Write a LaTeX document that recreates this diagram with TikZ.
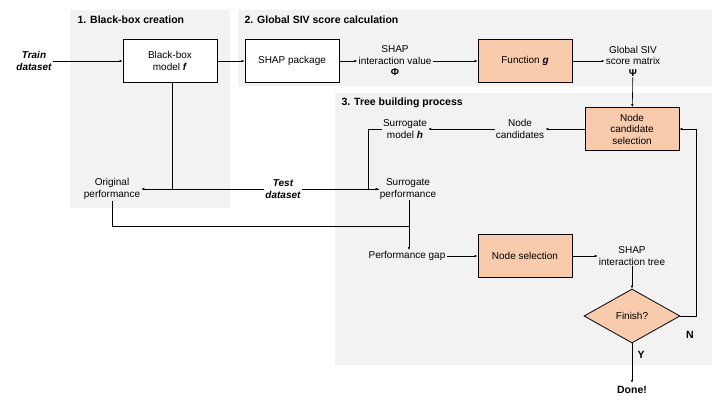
\documentclass[tikz,border=0pt]{standalone}
\usepackage{fontspec}
\setmainfont{Liberation Sans}
\usetikzlibrary{shapes.geometric,arrows.meta}
\definecolor{panel}{HTML}{F2F2F2}
\definecolor{org}{HTML}{F8CBAD}
\begin{document}
\begin{tikzpicture}[x=1pt,y=-1pt,
  font=\fontsize{10}{11.5}\selectfont,
  box/.style={draw,line width=0.8pt,minimum width=94pt,minimum height=43pt,align=center,inner sep=1pt},
  obox/.style={box,fill=org},
  txt/.style={align=center,inner sep=1pt},
  ttl/.style={anchor=west,font=\fontsize{10.5}{12}\selectfont\bfseries},
  ar/.style={-{Latex[length=3pt,width=2.5pt]},line width=0.6pt},
  ln/.style={line width=0.6pt}]
\useasboundingbox (0,0) rectangle (720,405);
\fill[panel] (70,10) rectangle (230,208);
\fill[panel] (238,10) rectangle (712,86);
\fill[panel] (335,93) rectangle (712,365);
\node[ttl] (t1) at (74,20) {1. Black-box creation};
\node[ttl] (t2) at (241,20) {2. Global SIV score calculation};
\node[ttl] (t3) at (338,103) {3. Tree building process};
\node[txt,font=\fontsize{10}{11.5}\selectfont\bfseries\itshape] (train) at (34,61) {Train\\dataset};
\node[box,fill=white] (bb) at (170,61) {Black-box\\model \textbf{\textit{f}}};
\node[box,fill=white] (shap) at (292,61) {SHAP package};
\node[txt] (phi) at (395,61) {SHAP\\interaction value\\\textbf{Φ}};
\node[obox] (g) at (525,61) {Function \textbf{\textit{g}}};
\node[txt] (psi) at (633,61) {Global SIV\\score matrix\\\textbf{Ψ}};
\node[obox] (ncs) at (632,129) {Node\\candidate\\selection};
\node[txt] (nc) at (520,129) {Node\\candidates};
\node[txt] (sm) at (405,129) {Surrogate\\model \textbf{\textit{h}}};
\node[txt] (sp) at (408,189) {Surrogate\\performance};
\node[txt] (op) at (112,189) {Original\\performance};
\node[txt,font=\fontsize{10}{11.5}\selectfont\bfseries\itshape] (test) at (283,189) {Test\\dataset};
\node[txt] (pg) at (407,256) {Performance gap};
\node[obox] (ns) at (525,256) {Node selection};
\node[txt] (tree) at (632,256) {SHAP\\interaction tree};
\node[diamond,draw,line width=0.8pt,fill=org,aspect=1.8,minimum width=96pt,minimum height=54pt,inner sep=0pt] (fin) at (632,316) {Finish?};
\node[font=\fontsize{10.5}{12}\selectfont\bfseries] (done) at (632,390) {Done!};
\node[font=\fontsize{10.5}{12}\selectfont\bfseries] (N) at (690,335) {N};
\node[font=\fontsize{10.5}{12}\selectfont\bfseries] (Y) at (641,355) {Y};
\coordinate (j1) at (172,189);
\draw[ar] (train) -- (bb);
\draw[ar] (bb) -- (shap);
\draw[ar] (shap) -- (phi);
\draw[ar] (phi) -- (g);
\draw[ar] (g) -- (psi);
\draw[ar] (psi) -- (ncs);
\draw[ar] (ncs) -- (nc);
\draw[ar] (nc) -- (sm);
\draw[ln] (bb.south -| j1) -- (j1);
\draw[ar] (test.west) -- (op.east);
\draw[ar] (test.east) -- (sp.west);
\draw[ln] (sm.west) -- ++(-14,0) |- (sp.west);
\draw[ar] (op.south) |- (409,226) -- (pg.north -| 409,0);
\draw[ln] (sp.south -| 409,0) -- (409,226);
\draw[ar] (pg) -- (ns);
\draw[ar] (ns) -- (tree);
\draw[ar] (tree) -- (fin);
\draw[ar] (fin.east) -- (696,316) |- (ncs.east);
\draw[ar] (fin.south) -- (done.north);
\end{tikzpicture}
\end{document}
